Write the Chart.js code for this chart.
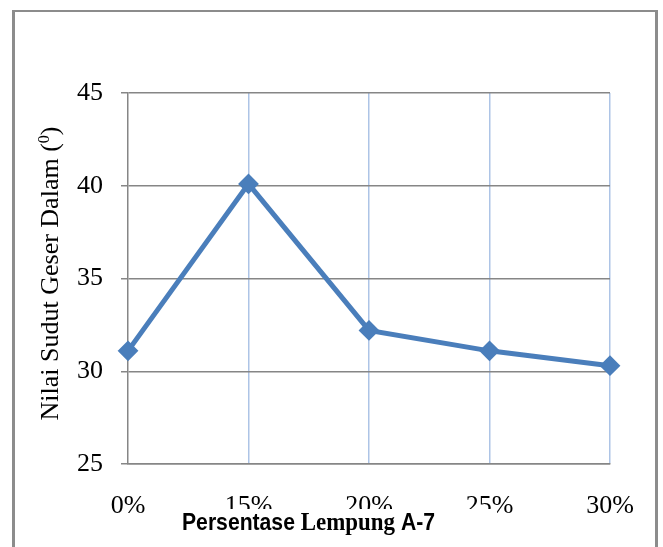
<!DOCTYPE html>
<html>
<head>
<meta charset="utf-8">
<title>Nilai Sudut Geser Dalam</title>
<script src="https://cdn.jsdelivr.net/npm/chart.js@4.4.1/dist/chart.umd.min.js"></script>
<style>
  html, body { margin: 0; padding: 0; background: #fff; }
  #wrap { width: 663px; height: 547px; }
</style>
</head>
<body>
<div id="wrap"><canvas id="chart" width="663" height="547"></canvas></div>
<script>
// Clay percentage (x) and internal friction angle in degrees (y)
const categories = ['0%', '15%', '20%', '25%', '30%'];
const sudutGeser = [31.1, 40.1, 32.2, 31.1, 30.3];
const yTickValues = [25, 30, 35, 40, 45];

const serif = '"Liberation Serif", "Times New Roman", serif';
const sans = '"Liberation Sans", Arial, sans-serif';
const gray = '#868686';

// White page with the grey frame around the figure
const framePlugin = {
  id: 'frame',
  beforeDraw(chart) {
    const ctx = chart.ctx;
    ctx.save();
    ctx.fillStyle = '#ffffff';
    ctx.fillRect(0, 0, chart.width, chart.height);
    ctx.fillStyle = '#8c8c8c';
    ctx.fillRect(12, 10, 3, chart.height);
    ctx.fillRect(12, 10, 646, 2);
    ctx.fillRect(655, 10, 3, chart.height);
    ctx.restore();
  }
};

// Axis titles: rotated y title with a superscript, mixed-font x title on a white box
const titlesPlugin = {
  id: 'titles',
  afterDraw(chart) {
    const ctx = chart.ctx;
    const area = chart.chartArea;

    // y title
    ctx.save();
    const main = 'Nilai Sudut Geser Dalam (';
    const sup = '0';
    const close = ')';
    ctx.font = '26px ' + serif;
    const wMain = ctx.measureText(main).width;
    const wClose = ctx.measureText(close).width;
    ctx.font = '16px ' + serif;
    const wSup = ctx.measureText(sup).width;
    const total = wMain + wSup + wClose;
    const cy = (area.top + area.bottom) / 2 - 5;
    ctx.translate(58, cy);
    ctx.rotate(-Math.PI / 2);
    ctx.fillStyle = '#000';
    ctx.textBaseline = 'alphabetic';
    ctx.textAlign = 'left';
    let x = -total / 2;
    ctx.font = '26px ' + serif;
    ctx.fillText(main, x, 0);
    x += wMain;
    ctx.font = '16px ' + serif;
    ctx.fillText(sup, x, -9);
    x += wSup;
    ctx.font = '26px ' + serif;
    ctx.fillText(close, x, 0);
    ctx.restore();

    // x title
    ctx.save();
    ctx.fillStyle = '#ffffff';
    ctx.fillRect(150, 509, 347, 32);
    const parts = [
      { t: 'Persentase ', f: 'bold 24px ' + sans },
      { t: 'Lempung', f: 'bold 26px ' + serif },
      { t: ' A-7', f: 'bold 24px ' + sans }
    ];
    let w = 0;
    parts.forEach(p => { ctx.font = p.f; p.w = ctx.measureText(p.t).width; w += p.w; });
    const targetW = 253;
    ctx.translate(182, 530);
    ctx.scale(targetW / w, 1);
    ctx.fillStyle = '#000';
    ctx.textBaseline = 'alphabetic';
    ctx.textAlign = 'left';
    let px = 0;
    parts.forEach(p => { ctx.font = p.f; ctx.fillText(p.t, px, 0); px += p.w; });
    ctx.restore();
  }
};

new Chart(document.getElementById('chart'), {
  type: 'line',
  data: {
    labels: categories,
    datasets: [{
      data: sudutGeser,
      borderColor: '#4a7ebb',
      backgroundColor: '#4a7ebb',
      borderWidth: 5,
      tension: 0,
      pointStyle: 'rectRot',
      pointRadius: 9,
      pointBorderWidth: 2,
      pointBackgroundColor: '#4a7ebb',
      pointBorderColor: '#4a7ebb',
      clip: false
    }]
  },
  options: {
    responsive: false,
    animation: false,
    events: [],
    layout: { padding: { top: 93, right: 53, left: 0, bottom: 0 } },
    plugins: {
      legend: { display: false },
      tooltip: { enabled: false },
      title: { display: false }
    },
    scales: {
      x: {
        type: 'category',
        offset: false,
        grid: {
          color: c => (c.index === 0 ? 'rgba(0,0,0,0)' : '#adc4e6'),
          lineWidth: 1.5,
          drawTicks: false
        },
        border: { color: gray, width: 1.5 },
        ticks: {
          font: { family: serif, size: 26 },
          color: '#000',
          padding: 27,
          maxRotation: 0,
          autoSkip: false
        },
        afterFit: s => { s.height = 83; }
      },
      y: {
        min: 25,
        max: 45,
        afterBuildTicks: s => { s.ticks = yTickValues.map(v => ({ value: v })); },
        grid: { color: gray, lineWidth: 1.5, tickLength: 7 },
        border: { color: gray, width: 1.5 },
        ticks: {
          font: { family: serif, size: 26 },
          color: '#000',
          padding: 18
        },
        afterFit: s => { s.width = 128; }
      }
    }
  },
  plugins: [framePlugin, titlesPlugin]
});
</script>
</body>
</html>
